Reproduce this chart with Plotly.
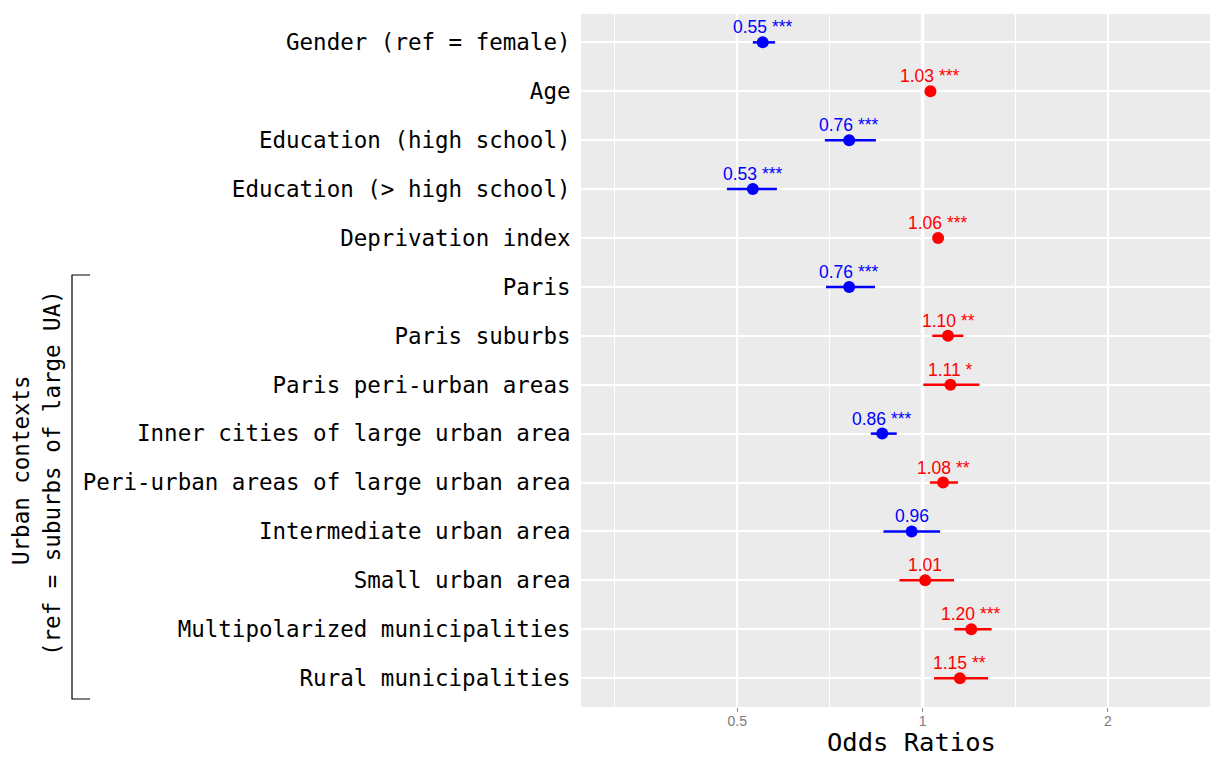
import numpy as np
import plotly.graph_objects as go

categories = [
    "Gender (ref = female)",
    "Age",
    "Education (high school)",
    "Education (> high school)",
    "Deprivation index",
    "Paris",
    "Paris suburbs",
    "Paris peri-urban areas",
    "Inner cities of large urban area",
    "Peri-urban areas of large urban area",
    "Intermediate urban area",
    "Small urban area",
    "Multipolarized municipalities",
    "Rural municipalities",
]
odds_ratio = [0.55, 1.03, 0.76, 0.53, 1.06, 0.76, 1.10, 1.11, 0.86, 1.08, 0.96, 1.01, 1.20, 1.15]
ci_low = [0.530, 1.025, 0.694, 0.481, 1.055, 0.697, 1.037, 1.003, 0.824, 1.028, 0.864, 0.917, 1.126, 1.044]
ci_high = [0.576, 1.035, 0.840, 0.580, 1.065, 0.837, 1.165, 1.237, 0.908, 1.142, 1.068, 1.125, 1.295, 1.278]
stars = ["***", "***", "***", "***", "***", "***", "**", "*", "***", "**", "", "", "***", "**"]

x_ticks = [0.5, 1, 2]
x_tick_labels = ["0.5", "1", "2"]
x_minor = [0.31623, 0.70711, 1.41421]

# page body has an 8px margin: the figure starts at page (8, 8)
OFF = 8
W, H = 1218 - OFF, 758 - OFF
L, R, T = 581 - OFF, 0, 14 - OFF
B = H - (707 - OFF)

fig = go.Figure()

# reference line at 1 (thicker white)
fig.add_trace(go.Scatter(x=[1, 1], y=[-2, 16], mode="lines",
                         line=dict(color="white", width=3.5),
                         hoverinfo="skip", showlegend=False))

ypos = list(range(len(categories)))
for color, cond in (("#0000FF", lambda v: v < 1), ("#FF0000", lambda v: v >= 1)):
    idx = [i for i, v in enumerate(odds_ratio) if cond(v)]
    fig.add_trace(go.Scatter(
        x=[odds_ratio[i] for i in idx],
        y=[ypos[i] for i in idx],
        mode="markers",
        marker=dict(color=color, size=12),
        error_x=dict(type="data", symmetric=False,
                     array=[ci_high[i] - odds_ratio[i] for i in idx],
                     arrayminus=[odds_ratio[i] - ci_low[i] for i in idx],
                     color=color, thickness=2.5, width=0),
        showlegend=False,
    ))
    for i in idx:
        txt = f"{odds_ratio[i]:.2f}" + (f" {stars[i]}" if stars[i] else "")
        fig.add_annotation(x=np.log10(odds_ratio[i]), y=ypos[i], xref="x", yref="y",
                           text=txt, showarrow=False, yanchor="bottom", yshift=3,
                           font=dict(family="Liberation Sans, Arial", size=17.5, color=color))

# log10 range from pixel geometry
x_lo = np.log10(0.2787)
x_hi = np.log10(3.02)

fig.update_layout(
    width=W, height=H,
    margin=dict(l=L, r=R, t=T, b=B, pad=0),
    paper_bgcolor="white",
    plot_bgcolor="#EBEBEB",
    xaxis=dict(type="log", range=[x_lo, x_hi], tickvals=x_ticks, ticktext=x_tick_labels,
               showgrid=True, gridcolor="white", gridwidth=2, zeroline=False,
               ticks="outside", ticklen=4, tickcolor="#8a8a8a", tickwidth=1.2,
               ticklabelstandoff=-3,
               tickfont=dict(family="Liberation Sans, Arial", size=14, color="#7a7a7a"),
               minor=dict(tickvals=x_minor, showgrid=True, gridcolor="white", gridwidth=1, ticks=""),
               showline=False, fixedrange=True),
    yaxis=dict(range=[13.59, -0.58], tickvals=ypos, ticktext=categories,
               showgrid=True, gridcolor="white", gridwidth=2, zeroline=False,
               ticks="outside", ticklen=5, tickcolor="rgba(0,0,0,0)",
               tickfont=dict(family="DejaVu Sans Mono", size=22.5, color="black"),
               showline=False, fixedrange=True),
)


def px(xp):
    """page x pixel -> paper x"""
    return (xp - OFF - L) / (W - L - R)


def py(yp):
    """page y pixel -> paper y"""
    return (H - B - (yp - OFF)) / (H - T - B)


# x axis title
fig.add_annotation(x=px(911), y=py(742), xref="paper", yref="paper",
                   text="Odds Ratios", showarrow=False, xanchor="center", yanchor="middle",
                   font=dict(family="DejaVu Sans Mono", size=25.5, color="black"))

# bracket for urban contexts
fig.add_shape(type="path", xref="paper", yref="paper",
              path=f"M {px(90)} {py(275)} L {px(72)} {py(275)} L {px(72)} {py(699)} L {px(90)} {py(699)}",
              line=dict(color="black", width=1.2))

fig.add_annotation(x=px(21), y=py(470), xref="paper", yref="paper",
                   text="Urban contexts", showarrow=False, textangle=-90,
                   xanchor="center", yanchor="middle",
                   font=dict(family="DejaVu Sans Mono", size=22.5, color="black"))
fig.add_annotation(x=px(52), y=py(473), xref="paper", yref="paper",
                   text="(ref = suburbs of large UA)", showarrow=False, textangle=-90,
                   xanchor="center", yanchor="middle",
                   font=dict(family="DejaVu Sans Mono", size=22.5, color="black"))

fig.write_html("out.html")
